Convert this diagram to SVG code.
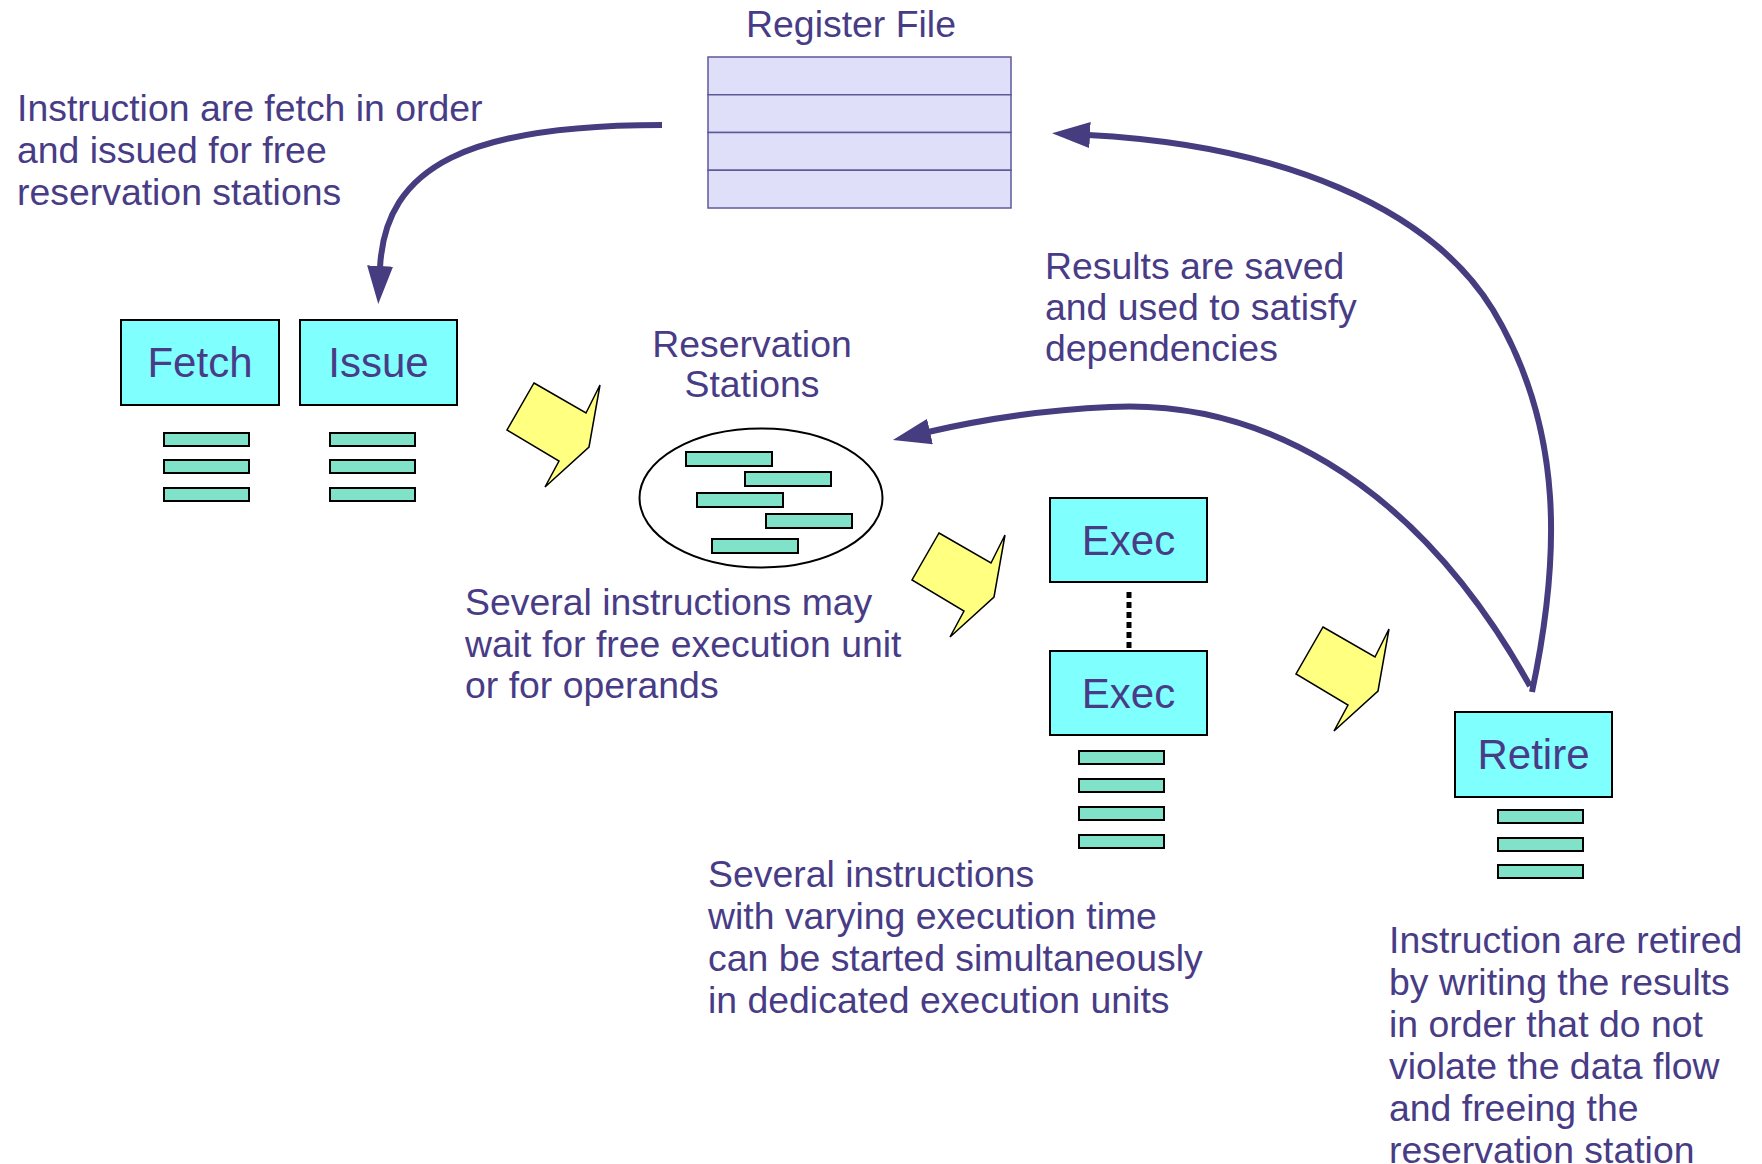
<svg xmlns="http://www.w3.org/2000/svg" width="1762" height="1164" viewBox="0 0 1762 1164">
  <style>
    text { font-family: "Liberation Sans", Arial, sans-serif; fill: #483c86; }
    .note { font-size: 37.4px; }
    .title { font-size: 37.4px; text-anchor: middle; }
    .unit rect.box { fill: #80ffff; stroke: #000; stroke-width: 2; }
    .unit text { font-size: 42px; text-anchor: middle; }
    .slot { fill: #80e2c8; stroke: #000; stroke-width: 2; }
    .step { fill: #ffff80; stroke: #000; stroke-width: 1.5; stroke-linejoin: miter; }
    .flow { fill: none; stroke: #463c80; stroke-width: 6; }
    .reg { fill: #dfdff9; stroke: #5d5a9a; stroke-width: 1.5; }
  </style>
  <defs>
    <marker id="head" viewBox="0 0 38 26" refX="2" refY="13" markerWidth="38" markerHeight="26" markerUnits="userSpaceOnUse" orient="auto">
      <path d="M0,0 L38,13 L0,26 Z" fill="#463c80"/>
    </marker>
    <polygon id="step" points="534,383 586,413 600,385 589,447 545,487 559,461 507,430"/>
    <rect id="slot" width="85" height="13"/>
  </defs>

  <rect width="1762" height="1164" fill="#fff"/>

  <!-- Register file -->
  <g id="register-file">
    <text class="title" x="851" y="37">Register File</text>
    <rect class="reg" x="708" y="57" width="303" height="37.75"/>
    <rect class="reg" x="708" y="94.75" width="303" height="37.75"/>
    <rect class="reg" x="708" y="132.5" width="303" height="37.75"/>
    <rect class="reg" x="708" y="170.25" width="303" height="37.75"/>
  </g>

  <!-- Fetch unit -->
  <g id="fetch" class="unit">
    <rect class="box" x="121" y="320" width="158" height="85"/>
    <text x="200" y="377">Fetch</text>
    <use href="#slot" class="slot" x="164" y="433"/>
    <use href="#slot" class="slot" x="164" y="460"/>
    <use href="#slot" class="slot" x="164" y="488"/>
  </g>

  <!-- Issue unit -->
  <g id="issue" class="unit">
    <rect class="box" x="300" y="320" width="157" height="85"/>
    <text x="378.5" y="377">Issue</text>
    <use href="#slot" class="slot" x="330" y="433"/>
    <use href="#slot" class="slot" x="330" y="460"/>
    <use href="#slot" class="slot" x="330" y="488"/>
  </g>

  <!-- Reservation stations -->
  <g id="reservation-stations">
    <text class="title" x="752" y="357">Reservation</text>
    <text class="title" x="752" y="397">Stations</text>
    <ellipse cx="761" cy="498" rx="121.5" ry="69.5" fill="#fff" stroke="#000" stroke-width="2"/>
    <rect class="slot" x="686" y="452" width="86" height="14"/>
    <rect class="slot" x="745" y="472" width="86" height="14"/>
    <rect class="slot" x="697" y="493" width="86" height="14"/>
    <rect class="slot" x="766" y="514" width="86" height="14"/>
    <rect class="slot" x="712" y="539" width="86" height="14"/>
  </g>

  <!-- Execution units -->
  <g id="exec-1" class="unit">
    <rect class="box" x="1050" y="498" width="157" height="84"/>
    <text x="1128.5" y="555">Exec</text>
  </g>
  <g id="exec-2" class="unit">
    <rect class="box" x="1050" y="651" width="157" height="84"/>
    <text x="1128.5" y="708">Exec</text>
    <use href="#slot" class="slot" x="1079" y="751"/>
    <use href="#slot" class="slot" x="1079" y="779"/>
    <use href="#slot" class="slot" x="1079" y="807"/>
    <use href="#slot" class="slot" x="1079" y="835"/>
  </g>

  <!-- Retire unit -->
  <g id="retire" class="unit">
    <rect class="box" x="1455" y="712" width="157" height="85"/>
    <text x="1533.5" y="769">Retire</text>
    <use href="#slot" class="slot" x="1498" y="810"/>
    <use href="#slot" class="slot" x="1498" y="838"/>
    <use href="#slot" class="slot" x="1498" y="865"/>
  </g>

  <!-- Connectors -->
  <g id="connectors">
    <path class="flow" d="M662,125 C470,125 385,165 380,268" marker-end="url(#head)"/>
    <path class="flow" d="M1532,692 C1560,560 1565,430 1493,310 C1430,207 1280,145 1088,135" marker-end="url(#head)"/>
    <path class="flow" d="M1530,686 C1410,470 1250,400 1110,407 C1040,410 980,420 928,432" marker-end="url(#head)"/>
    <line x1="1129" y1="592" x2="1129" y2="648" stroke="#000" stroke-width="5" stroke-dasharray="6 4"/>
    <use href="#step" class="step"/>
    <use href="#step" class="step" x="405" y="150"/>
    <use href="#step" class="step" x="789" y="244"/>
  </g>

  <!-- Notes -->
  <g id="note-fetch">
    <text class="note" x="17" y="121">Instruction are fetch in order</text>
    <text class="note" x="17" y="163">and issued for free</text>
    <text class="note" x="17" y="205">reservation stations</text>
  </g>
  <g id="note-results">
    <text class="note" x="1045" y="279">Results are saved</text>
    <text class="note" x="1045" y="320">and used to satisfy</text>
    <text class="note" x="1045" y="361">dependencies</text>
  </g>
  <g id="note-wait">
    <text class="note" x="465" y="615">Several instructions may</text>
    <text class="note" x="465" y="657">wait for free execution unit</text>
    <text class="note" x="465" y="698">or for operands</text>
  </g>
  <g id="note-exec">
    <text class="note" x="708" y="887">Several instructions</text>
    <text class="note" x="708" y="929">with varying execution time</text>
    <text class="note" x="708" y="971">can be started simultaneously</text>
    <text class="note" x="708" y="1013">in dedicated execution units</text>
  </g>
  <g id="note-retire">
    <text class="note" x="1389" y="953">Instruction are retired</text>
    <text class="note" x="1389" y="995">by writing the results</text>
    <text class="note" x="1389" y="1037">in order that do not</text>
    <text class="note" x="1389" y="1079">violate the data flow</text>
    <text class="note" x="1389" y="1121">and freeing the</text>
    <text class="note" x="1389" y="1163">reservation station</text>
  </g>
</svg>
